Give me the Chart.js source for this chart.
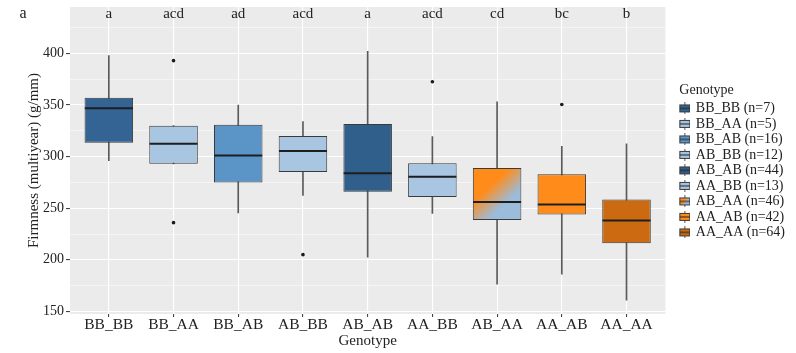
<!DOCTYPE html>
<html>
<head>
<meta charset="utf-8">
<script src="https://cdn.jsdelivr.net/npm/chart.js@4.4.1/dist/chart.umd.min.js"></script>
<style>
  body { margin: 0; background: #fff; }
  #wrap { width: 796px; height: 353px; }
</style>
</head>
<body>
<div id="wrap"><canvas id="firmnessChart"></canvas></div>
<script>
const genotypes = ['BB_BB', 'BB_AA', 'BB_AB', 'AB_BB', 'AB_AB', 'AA_BB', 'AB_AA', 'AA_AB', 'AA_AA'];
const counts = [7, 5, 16, 12, 44, 13, 46, 42, 64];
const whiskerLow = [296, 293, 245.5, 262.5, 202.5, 245, 176.5, 186, 161];
const q1 = [313.5, 293, 275, 285, 266, 261, 238.5, 244, 216];
const medians = [347, 312.5, 301, 305.5, 284, 280.5, 256, 253.5, 238];
const q3 = [357, 330, 331, 320, 331.5, 293.5, 289, 283, 258.5];
const whiskerHigh = [398, 330, 350, 334, 402, 319.5, 353, 310, 312.5];
const outlierGroup = [1, 1, 3, 5, 7];
const outlierValue = [393, 236, 205, 372.5, 350.5];
const sigLetters = ['a', 'acd', 'ad', 'acd', 'a', 'acd', 'cd', 'bc', 'b'];
const yMajor = [150, 200, 250, 300, 350, 400];
const yMinor = [175, 225, 275, 325, 375, 425];

const boxColors = ['#346494', '#a8c6e2', '#5b95c8', '#a8c6e2', '#315f8c', '#a8c6e2', '#ff8c1a', '#ff8c1a', '#cc6a12'];
const mixA = '#ff8c1a';
const mixB = '#9bbcdb';

Chart.defaults.font.family = "'Liberation Serif', 'Times New Roman', serif";
Chart.defaults.color = '#222';

function mixGradient(c, x0, y0, x1, y1) {
    const g = c.createLinearGradient(x0, y0, x1, y1);
    g.addColorStop(0.35, mixA);
    g.addColorStop(0.68, mixB);
    return g;
}

// small boxplot icons for the legend
const icons = boxColors.map((col, i) => {
    const cv = document.createElement('canvas');
    cv.width = 11; cv.height = 12;
    const c = cv.getContext('2d');
    c.strokeStyle = '#555';
    c.lineWidth = 1;
    c.beginPath(); c.moveTo(5.5, 0); c.lineTo(5.5, 12); c.stroke();
    c.fillStyle = i === 6 ? mixGradient(c, 0.5, 2.5, 10.5, 9.5) : col;
    c.fillRect(0.5, 2.5, 10, 7);
    c.strokeStyle = '#3a3a3a';
    c.strokeRect(0.5, 2.5, 10, 7);
    c.strokeStyle = '#1e1e1e';
    c.beginPath(); c.moveTo(0.5, 6); c.lineTo(10.5, 6); c.stroke();
    return cv;
});

const panelPlugin = {
    id: 'panel',
    beforeDraw(chart) {
        const {ctx, chartArea: a} = chart;
        ctx.save();
        ctx.fillStyle = '#ebebeb';
        ctx.fillRect(a.left, a.top, a.right - a.left, a.bottom - a.top);
        ctx.restore();
    },
    afterLayout(chart) {
        // nudge the legend away from the panel and up a bit
        const lg = chart.legend;
        lg.left += 14;
        lg.right += 14;
        lg.top -= 18;
        lg.bottom -= 18;
    },
    afterDraw(chart) {
        const {ctx, scales: {x}} = chart;
        ctx.save();
        ctx.fillStyle = '#222';
        ctx.textAlign = 'center';
        ctx.textBaseline = 'middle';
        ctx.font = "15px 'Liberation Serif'";
        sigLetters.forEach((s, i) => ctx.fillText(s, x.getPixelForValue(i), 14));
        ctx.font = "16px 'Liberation Serif'";
        ctx.fillText('a', 23, 14);
        ctx.restore();
    }
};

const data = {
    datasets: [
        {
            label: 'box',
            data: genotypes.map((g, i) => ({x: i, y: [q1[i], q3[i]]})),
            backgroundColor: (ctx) => {
                const i = ctx.dataIndex;
                const {x, y} = ctx.chart.scales;
                if (i !== 6 || !x || !y) return boxColors[i];
                const cx = x.getPixelForValue(i);
                return mixGradient(ctx.chart.ctx, cx - 24, y.getPixelForValue(q3[i]), cx + 24, y.getPixelForValue(q1[i]));
            },
            borderColor: '#3a3a3a',
            borderWidth: 1,
            borderSkipped: false,
            grouped: false,
            categoryPercentage: 1,
            barPercentage: 0.75,
            order: 1
        },
        {
            label: 'whisker',
            data: genotypes.map((g, i) => ({x: i, y: [whiskerLow[i], whiskerHigh[i]]})),
            backgroundColor: '#5a5a5a',
            barThickness: 1,
            grouped: false,
            order: 2
        },
        {
            type: 'scatter',
            label: 'median',
            data: genotypes.map((g, i) => ({x: i, y: medians[i]})),
            pointStyle: 'line',
            pointRadius: 24,
            pointHoverRadius: 24,
            pointBorderColor: '#1e1e1e',
            pointBorderWidth: 2,
            order: 0
        },
        {
            type: 'scatter',
            label: 'outlier',
            data: outlierGroup.map((g, i) => ({x: g, y: outlierValue[i]})),
            pointRadius: 1.8,
            pointBackgroundColor: '#1a1a1a',
            pointBorderWidth: 0,
            order: 0
        }
    ]
};

const config = {
    type: 'bar',
    data: data,
    options: {
        responsive: true,
        maintainAspectRatio: false,
        animation: false,
        layout: { autoPadding: false, padding: { top: 7, right: 15, bottom: 0, left: 0 } },
        plugins: {
            tooltip: { enabled: false },
            legend: {
                position: 'right',
                align: 'center',
                title: { display: true, text: 'Genotype', position: 'start', font: { size: 14 }, padding: { top: 0, bottom: 0 } },
                labels: {
                    usePointStyle: true,
                    boxWidth: 8,
                    padding: 1.5,
                    font: { size: 14 },
                    generateLabels: () => genotypes.map((g, i) => ({
                        text: g + ' (n=' + counts[i] + ')',
                        pointStyle: icons[i],
                        fillStyle: boxColors[i],
                        strokeStyle: '#3a3a3a',
                        lineWidth: 0,
                        hidden: false,
                        datasetIndex: 0,
                        index: i
                    }))
                }
            }
        },
        scales: {
            x: {
                type: 'linear',
                offset: false,
                min: -0.6,
                max: 8.6,
                afterBuildTicks: (s) => { s.ticks = genotypes.map((g, i) => ({value: i})); },
                afterFit: (s) => { s.height = 39; s.paddingLeft = 0; s.paddingRight = 0; },
                ticks: {
                    autoSkip: false,
                    maxRotation: 0,
                    padding: 0,
                    font: { size: 15.5, lineHeight: 1 },
                    callback: (v) => genotypes[v]
                },
                grid: { offset: false, color: '#ffffff', lineWidth: 1.1, tickColor: '#444', tickLength: 3 },
                border: { display: false },
                title: { display: true, text: 'Genotype', font: { size: 15 }, padding: { top: 0, bottom: 2.5 } }
            },
            y: {
                min: 147.5,
                max: 445,
                afterBuildTicks: (s) => { s.ticks = yMajor.concat(yMinor).sort((a, b) => a - b).map(v => ({value: v})); },
                afterFit: (s) => { s.width = 70; s.paddingTop = 0; s.paddingBottom = 0; },
                ticks: {
                    padding: 2,
                    font: { size: 14 },
                    callback: (v) => (v % 50 === 0 ? String(v) : '')
                },
                grid: {
                    color: '#ffffff',
                    lineWidth: (ctx) => (ctx.tick && ctx.tick.value % 50 === 0 ? 1.1 : 0.5),
                    tickColor: (ctx) => (ctx.tick && ctx.tick.value % 50 === 0 ? '#444' : 'rgba(0,0,0,0)'),
                    tickLength: 4
                },
                border: { display: false },
                title: { display: true, text: 'Firmness (multiyear) (g/mm)', font: { size: 15 }, padding: { top: 25, bottom: 0 } }
            }
        }
    },
    plugins: [panelPlugin]
};

// eslint-disable-next-line
const firmnessChart = new Chart(
    document.getElementById('firmnessChart'),
    config
);
</script>
</body>
</html>
